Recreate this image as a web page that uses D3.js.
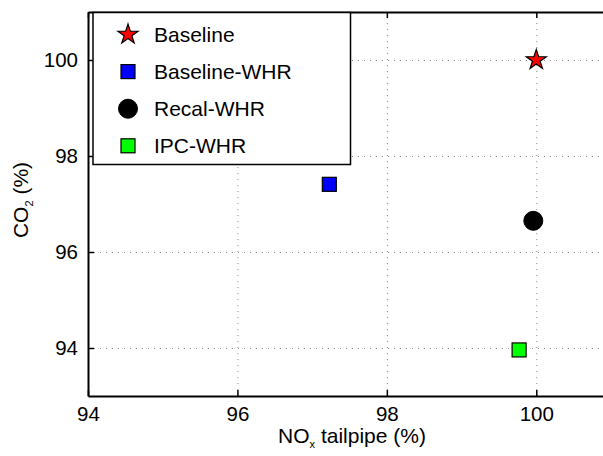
<!DOCTYPE html>
<html>
<head>
<meta charset="utf-8">
<script src="https://cdn.jsdelivr.net/npm/d3@7"></script>
<style>
  html, body { margin: 0; padding: 0; background: #fff; }
  svg { display: block; font-family: "Liberation Sans", Arial, Helvetica, sans-serif; }
</style>
</head>
<body>
<svg id="chart" width="603" height="456"></svg>
<script>
// Scenario names, shown in the legend and used as point keys
const scenarios = ["Baseline", "Baseline-WHR", "Recal-WHR", "IPC-WHR"];
// NOx tailpipe emissions relative to baseline (%)
const noxValues = [100.0, 97.23, 99.96, 99.77];
// CO2 emissions relative to baseline (%)
const co2Values = [100.0, 97.41, 96.65, 93.96];
// Marker shape and fill per scenario
const markerShapes = ["star", "square", "circle", "square"];
const markerFills = ["#ff0000", "#0000ff", "#000000", "#00ff00"];
// Axis ticks
const xTicks = [94, 96, 98, 100];
const yTicks = [94, 96, 98, 100];

const FONT = 20.5;
const svg = d3.select("#chart");
const margin = { left: 88, top: 12, right: -8, bottom: 60 };
const W = 603, H = 456;

const x = d3.scaleLinear().domain([94, 101]).range([margin.left, W - margin.right]);
const y = d3.scaleLinear().domain([93, 101]).range([H - margin.bottom, margin.top]);

const x0 = x.range()[0], x1 = x.range()[1];
const y0 = y.range()[0], y1 = y.range()[1];

// Dotted grid
const grid = svg.append("g").attr("stroke", "#8a8a8a").attr("stroke-width", 1)
  .attr("stroke-dasharray", "1,5");
grid.selectAll("line.gx").data(xTicks).join("line")
  .attr("x1", d => x(d) + 0.5).attr("x2", d => x(d) + 0.5)
  .attr("y1", y0).attr("y2", y1);
grid.selectAll("line.gy").data(yTicks).join("line")
  .attr("x1", x0).attr("x2", x1)
  .attr("y1", d => y(d) + 0.5).attr("y2", d => y(d) + 0.5);

// Axes with inward ticks
const xAxis = svg.append("g").attr("transform", `translate(0,${y0})`)
  .call(d3.axisBottom(x).tickValues(xTicks).tickSizeInner(-6).tickSizeOuter(0)
    .tickPadding(10).tickFormat(d3.format("d")));
const xAxisTop = svg.append("g").attr("transform", `translate(0,${y1})`)
  .call(d3.axisTop(x).tickValues(xTicks).tickSizeInner(-6).tickSizeOuter(0).tickFormat(""));
const yAxis = svg.append("g").attr("transform", `translate(${x0},0)`)
  .call(d3.axisLeft(y).tickValues(yTicks).tickSizeInner(-6).tickSizeOuter(0)
    .tickPadding(10).tickFormat(d3.format("d")));

[xAxis, xAxisTop, yAxis].forEach(g => {
  g.attr("font-size", FONT).attr("font-family", "Liberation Sans, Arial, sans-serif");
  g.select(".domain").attr("stroke", "#000").attr("stroke-width", 2);
  g.selectAll(".tick line").attr("stroke", "#000").attr("stroke-width", 1.5);
  g.selectAll(".tick text").attr("fill", "#000");
});

// Marker drawing helper
const starPath = d3.symbol().type(d3.symbolStar).size(125)();
function drawMarker(g, shape, fill, cx, cy) {
  if (shape === "star") {
    g.append("path").attr("d", starPath)
      .attr("transform", `translate(${cx},${cy})`)
      .attr("fill", fill).attr("stroke", "#000").attr("stroke-width", 1.2);
  } else if (shape === "square") {
    g.append("rect").attr("x", cx - 7).attr("y", cy - 7).attr("width", 14).attr("height", 14)
      .attr("fill", fill).attr("stroke", "#000").attr("stroke-width", 1.2);
  } else {
    g.append("circle").attr("cx", cx).attr("cy", cy).attr("r", 9.5)
      .attr("fill", fill).attr("stroke", "#000").attr("stroke-width", 1);
  }
}

// Data points
const pts = svg.append("g");
scenarios.forEach((s, i) => {
  drawMarker(pts, markerShapes[i], markerFills[i], x(noxValues[i]), y(co2Values[i]));
});

// Legend
const legend = svg.append("g");
legend.append("rect").attr("x", 93).attr("y", 12.5).attr("width", 257.5).attr("height", 152)
  .attr("fill", "#fff").attr("stroke", "#000").attr("stroke-width", 1.5);
scenarios.forEach((s, i) => {
  const ly = 34.5 + i * 37.1;
  drawMarker(legend, markerShapes[i], markerFills[i], 128, ly);
  legend.append("text").attr("x", 154).attr("y", ly + 7.5)
    .attr("font-size", 21).attr("fill", "#000").text(s);
});

// Axis titles
const xt = svg.append("text").attr("x", 352).attr("y", 443)
  .attr("text-anchor", "middle").attr("font-size", 21).attr("fill", "#000");
xt.append("tspan").text("NO");
xt.append("tspan").attr("font-size", 11).attr("dy", 5).text("x");
xt.append("tspan").attr("dy", -5).text(" tailpipe (%)");

const yt = svg.append("text").attr("transform", "translate(28,200) rotate(-90)")
  .attr("text-anchor", "middle").attr("font-size", 21).attr("fill", "#000");
yt.append("tspan").text("CO");
yt.append("tspan").attr("font-size", 11).attr("dy", 5).text("2");
yt.append("tspan").attr("dy", -5).text(" (%)");
</script>
</body>
</html>
